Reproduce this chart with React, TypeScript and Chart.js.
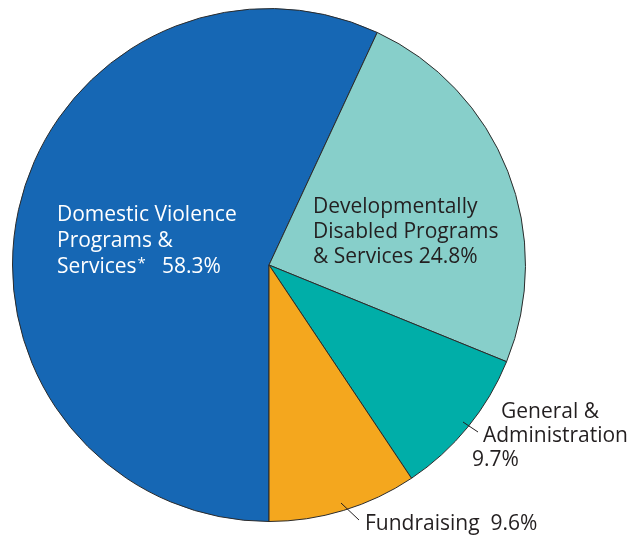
import React, { useEffect, useRef } from "react";
import { Chart, registerables } from "chart.js";
Chart.register(...registerables);

const categories = [
  "Domestic Violence Programs & Services*",
  "Developmentally Disabled Programs & Services",
  "General & Administration",
  "Fundraising",
];
const values = [58.3, 24.8, 9.7, 9.6];
const colors = ["#1667b4", "#87cfca", "#00aea8", "#f4a71e"];

const FONT = '"Open Sans", sans-serif';

const labelPlugin = {
  id: "sliceLabels",
  afterDraw(chart: any) {
    const ctx = chart.ctx as CanvasRenderingContext2D;
    ctx.save();
    const main = `500 21px ${FONT}`;
    ctx.font = main;
    ctx.textBaseline = "alphabetic";
    ctx.textAlign = "left";

    // Domestic Violence (white, inside)
    ctx.fillStyle = "#ffffff";
    ctx.fillText("Domestic Violence", 57, 221);
    ctx.fillText("Programs &", 57, 247);
    const w1 = ctx.measureText("Services").width;
    ctx.fillText("Services", 57, 273);
    ctx.font = `500 15px ${FONT}`;
    ctx.fillText("*", 57 + w1 + 1, 268);
    ctx.font = main;
    ctx.fillText(`${values[0]}%`, 162, 273);

    // Developmentally Disabled (dark, inside)
    ctx.fillStyle = "#231f20";
    ctx.fillText("Developmentally", 313, 213);
    ctx.fillText("Disabled Programs", 313, 238);
    ctx.fillText(`& Services ${values[1]}%`, 313, 263);

    // General & Administration (outside)
    ctx.textAlign = "right";
    ctx.fillText("General &", 599, 418);
    ctx.fillText("Administration", 628, 442);
    ctx.textAlign = "left";
    ctx.fillText(`${values[2]}%`, 472, 466);

    // Fundraising (outside)
    ctx.fillText(`Fundraising  ${values[3]}%`, 365, 530);

    // leader lines
    ctx.strokeStyle = "#231f20";
    ctx.lineWidth = 1;
    ctx.beginPath();
    ctx.moveTo(463, 422);
    ctx.lineTo(478, 432);
    ctx.moveTo(341, 503);
    ctx.lineTo(359, 520);
    ctx.stroke();
    ctx.restore();
  },
};

export default function App() {
  const ref = useRef<HTMLCanvasElement | null>(null);
  useEffect(() => {
    if (!ref.current) return;
    const chart = new Chart(ref.current, {
      type: "pie",
      data: {
        labels: categories,
        datasets: [
          {
            data: values,
            backgroundColor: colors,
            borderColor: "#2b2b2b",
            borderWidth: 1,
          },
        ],
      },
      options: {
        animation: false,
        responsive: false,
        rotation: 180,
        layout: { padding: { left: 12, right: 114, top: 8, bottom: 13 } },
        plugins: { legend: { display: false }, tooltip: { enabled: false } },
      },
      plugins: [labelPlugin],
    });
    return () => chart.destroy();
  }, []);
  return (
    <div style={{ position: "absolute", left: 0, top: 0, width: 640, height: 535, background: "#fff" }}>
      <canvas ref={ref} width={640} height={535} />
    </div>
  );
}
